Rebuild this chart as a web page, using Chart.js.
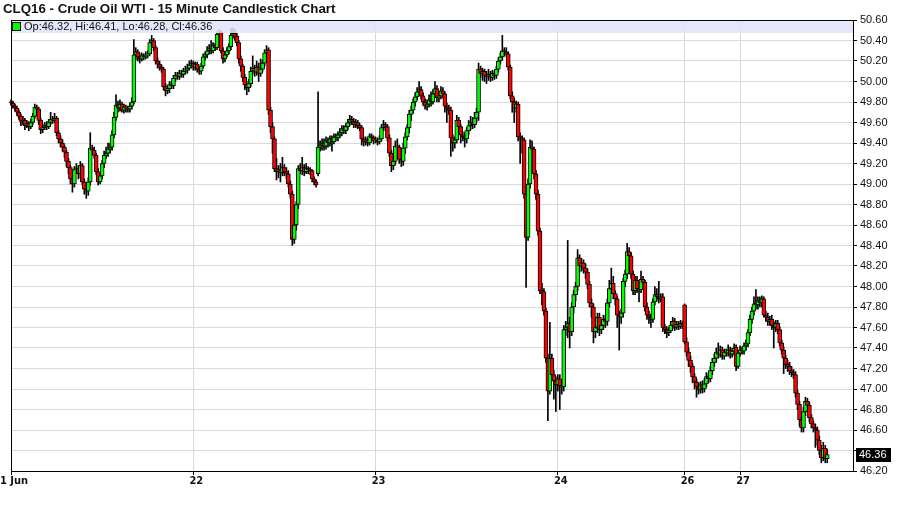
<!DOCTYPE html>
<html>
<head>
<meta charset="utf-8">
<script src="https://cdn.jsdelivr.net/npm/chart.js@4.4.1/dist/chart.umd.min.js"></script>
<style>
  body { margin: 0; background: #fff; }
  #wrap { width: 900px; height: 511px; }
</style>
</head>
<body>
<div id="wrap"><canvas id="myChart" width="900" height="511"></canvas></div>
<script>
// 15 minute candles, CLQ16
var opens = [
49.80,49.79,49.76,49.74,49.70,49.66,49.61,49.62,49.57,49.59,
49.56,49.60,49.66,49.75,49.73,49.62,49.53,49.55,49.57,49.56,
49.60,49.63,49.62,49.64,49.50,49.44,49.40,49.36,49.31,49.22,
49.16,49.05,49.00,49.14,49.15,49.10,49.18,49.02,48.95,48.93,
49.02,49.35,49.33,49.28,49.12,49.02,49.08,49.20,49.28,49.30,
49.34,49.36,49.48,49.65,49.77,49.74,49.78,49.72,49.75,49.74,
49.73,49.76,49.80,50.26,50.29,50.24,50.22,50.25,50.24,50.26,
50.27,50.38,50.40,50.33,50.20,50.17,50.14,50.12,49.95,49.91,
49.93,49.97,49.96,50.03,50.06,50.05,50.08,50.07,50.10,50.11,
50.13,50.16,50.18,50.14,50.17,50.12,50.10,50.15,50.24,50.26,
50.30,50.32,50.30,50.35,50.33,50.46,50.48,50.30,50.22,50.26,
50.30,50.34,50.45,50.47,50.44,50.38,50.22,50.15,50.04,49.97,
49.94,49.98,50.10,50.13,50.09,50.14,50.08,50.12,50.18,50.28,
50.31,49.72,49.56,49.44,49.15,49.12,49.14,49.11,49.16,49.12,
49.10,49.00,48.90,48.46,48.60,48.80,49.15,49.13,49.16,49.12,
49.15,49.14,49.13,49.05,49.02,49.10,49.36,49.38,49.40,49.37,
49.42,49.40,49.44,49.41,49.46,49.45,49.48,49.50,49.54,49.52,
49.56,49.60,49.63,49.61,49.58,49.60,49.57,49.55,49.44,49.41,
49.43,49.40,49.47,49.45,49.42,49.43,49.41,49.44,49.55,49.58,
49.56,49.45,49.30,49.18,49.22,49.37,49.36,49.24,49.22,49.35,
49.46,49.55,49.68,49.72,49.80,49.85,49.90,49.92,49.86,49.80,
49.76,49.78,49.82,49.80,49.88,49.93,49.84,49.86,49.91,49.88,
49.76,49.74,49.72,49.45,49.40,49.43,49.62,49.56,49.48,49.46,
49.44,49.52,49.57,49.60,49.58,49.64,49.70,50.12,50.08,50.10,
50.06,50.05,50.07,50.04,50.08,50.06,50.12,50.20,50.24,50.30,
50.29,50.27,50.14,49.86,49.80,49.74,49.78,49.46,49.44,49.43,
48.90,48.48,49.00,49.36,49.34,49.10,48.90,48.54,47.96,47.95,
47.76,47.30,46.98,47.30,47.14,47.08,47.04,47.10,47.03,47.02,
47.58,47.60,47.64,47.56,47.80,47.92,48.00,48.28,48.20,48.23,
48.18,48.14,48.02,47.84,47.80,47.56,47.60,47.70,47.58,47.62,
47.68,47.66,47.84,47.98,48.03,47.93,47.88,47.72,47.70,47.74,
48.05,48.12,48.34,48.30,48.12,47.96,48.06,47.98,47.97,48.07,
48.04,47.80,47.72,47.70,47.68,47.85,47.92,47.90,47.88,47.90,
47.60,47.58,47.55,47.57,47.62,47.66,47.60,47.63,47.61,47.64,
47.82,47.46,47.36,47.28,47.22,47.12,47.07,47.02,46.99,47.04,
47.00,47.05,47.12,47.10,47.18,47.26,47.30,47.36,47.34,47.38,
47.32,47.36,47.35,47.38,47.34,47.37,47.41,47.22,47.35,47.38,
47.37,47.42,47.44,47.55,47.68,47.76,47.83,47.82,47.86,47.84,
47.88,47.72,47.70,47.66,47.68,47.62,47.60,47.64,47.58,47.45,
47.38,47.30,47.24,47.22,47.18,47.16,47.14,46.96,46.85,46.70,
46.62,46.78,46.88,46.84,46.72,46.66,46.62,46.60,46.50,46.40,
46.33,46.42,46.32
];
var highs = [
49.82,49.81,49.78,49.76,49.72,49.68,49.66,49.64,49.62,49.61,
49.63,49.69,49.78,49.77,49.75,49.64,49.58,49.60,49.61,49.63,
49.70,49.66,49.69,49.66,49.52,49.47,49.43,49.38,49.33,49.25,
49.18,49.08,49.17,49.20,49.18,49.22,49.20,49.05,48.99,49.06,
49.50,49.38,49.36,49.30,49.15,49.11,49.23,49.32,49.36,49.40,
49.40,49.52,49.70,49.87,49.81,49.82,49.80,49.78,49.77,49.76,
49.79,49.84,50.41,50.33,50.31,50.27,50.28,50.27,50.29,50.30,
50.41,50.45,50.42,50.35,50.23,50.20,50.16,50.14,49.98,49.96,
50.00,50.00,50.06,50.09,50.09,50.11,50.11,50.13,50.15,50.17,
50.20,50.21,50.20,50.19,50.19,50.15,50.18,50.27,50.29,50.34,
50.36,50.40,50.38,50.37,50.49,50.51,50.50,50.33,50.29,50.33,
50.37,50.52,50.52,50.51,50.47,50.40,50.25,50.17,50.07,50.00,
50.02,50.14,50.25,50.16,50.20,50.18,50.22,50.21,50.31,50.35,
50.33,49.75,49.60,49.46,49.25,49.18,49.20,49.26,49.19,49.16,
49.13,49.03,48.93,48.63,48.83,49.18,49.20,49.26,49.19,49.20,
49.17,49.16,49.14,49.07,49.04,49.90,49.42,49.44,49.44,49.46,
49.45,49.47,49.47,49.49,49.49,49.51,49.54,49.57,49.57,49.59,
49.63,49.67,49.66,49.64,49.63,49.62,49.59,49.57,49.46,49.46,
49.45,49.49,49.49,49.47,49.46,49.45,49.47,49.58,49.62,49.60,
49.58,49.48,49.33,49.26,49.42,49.44,49.38,49.28,49.40,49.50,
49.58,49.72,49.76,49.83,49.89,49.94,50.00,49.95,49.89,49.83,
49.82,49.87,49.90,49.92,50.00,49.96,49.90,49.95,49.94,49.90,
49.79,49.77,49.75,49.48,49.46,49.67,49.65,49.58,49.51,49.50,
49.55,49.62,49.66,49.65,49.70,49.74,50.18,50.15,50.13,50.12,
50.10,50.12,50.10,50.11,50.10,50.15,50.23,50.28,50.45,50.33,
50.33,50.29,50.16,49.90,49.84,49.81,49.80,49.50,49.47,49.45,
48.94,49.05,49.43,49.42,49.36,49.13,48.94,48.57,48.03,47.98,
47.79,47.34,47.65,47.34,47.18,47.12,47.14,47.14,47.08,47.62,
47.66,48.45,47.70,47.84,47.96,48.04,48.36,48.31,48.27,48.26,
48.22,48.17,48.05,47.88,47.83,47.64,47.74,47.74,47.66,47.72,
47.72,47.88,48.06,48.18,48.10,47.96,47.91,47.76,47.78,48.08,
48.16,48.42,48.38,48.33,48.15,48.10,48.10,48.02,48.15,48.10,
48.06,47.84,47.76,47.73,47.88,48.00,47.98,48.05,47.93,47.93,
47.63,47.61,47.60,47.66,47.70,47.69,47.66,47.66,47.67,47.66,
47.83,47.50,47.40,47.32,47.25,47.15,47.10,47.06,47.07,47.08,
47.10,47.16,47.15,47.22,47.30,47.34,47.40,47.45,47.42,47.41,
47.39,47.39,47.43,47.41,47.40,47.44,47.43,47.38,47.42,47.41,
47.45,47.48,47.58,47.72,47.80,47.90,47.97,47.90,47.90,47.91,
47.90,47.76,47.74,47.71,47.72,47.66,47.67,47.67,47.61,47.48,
47.41,47.33,47.28,47.26,47.22,47.19,47.17,46.99,46.88,46.73,
46.82,46.92,46.91,46.87,46.75,46.69,46.66,46.63,46.54,46.45,
46.48,46.45,46.41
];
var lows = [
49.77,49.74,49.71,49.67,49.63,49.57,49.58,49.53,49.55,49.52,
49.54,49.58,49.64,49.70,49.58,49.49,49.50,49.53,49.53,49.54,
49.58,49.59,49.60,49.47,49.40,49.36,49.32,49.26,49.17,49.10,
49.00,48.92,48.97,49.10,49.05,49.06,48.99,48.90,48.86,48.89,
48.99,49.29,49.25,49.09,48.99,49.00,49.05,49.16,49.25,49.27,
49.30,49.33,49.45,49.62,49.70,49.71,49.70,49.69,49.70,49.70,
49.70,49.73,49.78,50.21,50.20,50.18,50.20,50.21,50.22,50.23,
50.25,50.35,50.30,50.17,50.13,50.11,50.09,49.92,49.86,49.88,
49.89,49.93,49.93,50.00,50.02,50.02,50.04,50.04,50.07,50.08,
50.11,50.13,50.11,50.11,50.09,50.07,50.07,50.13,50.21,50.23,
50.27,50.27,50.28,50.30,50.31,50.43,50.28,50.18,50.19,50.24,
50.27,50.31,50.42,50.40,50.35,50.18,50.10,50.00,49.92,49.87,
49.90,49.95,50.07,50.05,50.06,50.00,50.05,50.10,50.15,50.24,
49.68,49.50,49.30,49.12,49.04,49.06,49.02,49.08,49.08,49.05,
48.97,48.86,48.40,48.42,48.55,48.76,49.10,49.09,49.08,49.10,
49.10,49.09,49.02,48.99,48.97,49.08,49.32,49.33,49.33,49.34,
49.36,49.37,49.32,49.39,49.42,49.42,49.45,49.47,49.49,49.49,
49.53,49.57,49.58,49.55,49.55,49.54,49.52,49.38,49.37,49.38,
49.37,49.38,49.42,49.39,49.40,49.38,49.39,49.42,49.52,49.52,
49.42,49.27,49.12,49.14,49.19,49.30,49.20,49.17,49.18,49.30,
49.43,49.50,49.62,49.69,49.76,49.82,49.86,49.83,49.77,49.73,
49.72,49.75,49.76,49.78,49.85,49.80,49.80,49.83,49.84,49.70,
49.60,49.68,49.27,49.32,49.35,49.40,49.52,49.40,49.42,49.36,
49.40,49.48,49.53,49.54,49.55,49.60,49.62,50.04,50.01,50.00,
49.98,50.01,50.00,50.01,50.02,50.03,50.09,50.17,50.21,50.25,
50.24,50.11,49.83,49.70,49.60,49.70,49.42,49.20,49.30,48.86,
47.99,48.45,48.96,49.28,49.05,48.85,48.50,47.93,47.82,47.72,
47.26,46.69,46.95,47.08,46.90,46.78,46.98,46.80,46.95,46.98,
47.52,47.50,47.40,47.52,47.74,47.86,47.96,48.14,48.15,48.13,
48.08,47.98,47.80,47.70,47.45,47.50,47.55,47.52,47.54,47.58,
47.60,47.62,47.80,47.94,47.88,47.82,47.60,47.38,47.64,47.70,
48.00,48.08,48.26,48.08,47.92,47.92,47.94,47.85,47.94,48.00,
47.76,47.68,47.64,47.60,47.65,47.82,47.86,47.84,47.85,47.56,
47.54,47.50,47.52,47.55,47.59,47.57,47.58,47.58,47.59,47.59,
47.44,47.32,47.22,47.16,47.06,47.00,46.92,46.95,46.96,46.96,
46.97,47.02,47.06,47.07,47.14,47.22,47.26,47.30,47.31,47.29,
47.29,47.32,47.32,47.30,47.31,47.33,47.18,47.20,47.32,47.34,
47.34,47.38,47.41,47.52,47.64,47.72,47.78,47.78,47.80,47.80,
47.70,47.66,47.62,47.62,47.58,47.40,47.56,47.54,47.42,47.34,
47.15,47.20,47.17,47.14,47.12,47.10,46.92,46.80,46.64,46.58,
46.58,46.74,46.80,46.68,46.62,46.58,46.43,46.45,46.36,46.28,
46.30,46.28,46.28
];
var closes = [
49.79,49.76,49.74,49.70,49.66,49.61,49.62,49.57,49.59,49.56,
49.60,49.66,49.75,49.73,49.62,49.53,49.55,49.57,49.56,49.60,
49.63,49.62,49.64,49.50,49.44,49.40,49.36,49.31,49.22,49.16,
49.05,49.00,49.14,49.15,49.10,49.18,49.02,48.95,48.93,49.02,
49.35,49.33,49.28,49.12,49.02,49.08,49.20,49.28,49.30,49.34,
49.36,49.48,49.65,49.77,49.74,49.78,49.72,49.75,49.74,49.73,
49.76,49.80,50.26,50.29,50.24,50.22,50.25,50.24,50.26,50.27,
50.38,50.40,50.33,50.20,50.17,50.14,50.12,49.95,49.91,49.93,
49.97,49.96,50.03,50.06,50.05,50.08,50.07,50.10,50.11,50.13,
50.16,50.18,50.14,50.17,50.12,50.10,50.15,50.24,50.26,50.30,
50.32,50.30,50.35,50.33,50.46,50.48,50.30,50.22,50.26,50.30,
50.34,50.45,50.47,50.44,50.38,50.22,50.15,50.04,49.97,49.94,
49.98,50.10,50.13,50.09,50.14,50.08,50.12,50.18,50.28,50.31,
49.72,49.56,49.44,49.15,49.12,49.14,49.11,49.16,49.12,49.10,
49.00,48.90,48.46,48.60,48.80,49.15,49.13,49.16,49.12,49.15,
49.14,49.13,49.05,49.02,48.99,49.36,49.38,49.40,49.37,49.42,
49.40,49.44,49.41,49.46,49.45,49.48,49.50,49.54,49.52,49.56,
49.60,49.63,49.61,49.58,49.60,49.57,49.55,49.44,49.41,49.43,
49.40,49.47,49.45,49.42,49.43,49.41,49.44,49.55,49.58,49.56,
49.45,49.30,49.18,49.22,49.37,49.36,49.24,49.22,49.35,49.46,
49.55,49.68,49.72,49.80,49.85,49.90,49.92,49.86,49.80,49.76,
49.78,49.82,49.80,49.88,49.93,49.84,49.86,49.91,49.88,49.76,
49.74,49.72,49.45,49.40,49.43,49.62,49.56,49.48,49.46,49.44,
49.52,49.57,49.60,49.58,49.64,49.70,50.12,50.08,50.10,50.06,
50.05,50.07,50.04,50.08,50.06,50.12,50.20,50.24,50.30,50.29,
50.27,50.14,49.86,49.80,49.74,49.78,49.46,49.44,49.43,48.90,
48.48,49.00,49.36,49.34,49.10,48.90,48.54,47.96,47.95,47.76,
47.30,46.98,47.30,47.14,47.08,47.04,47.10,47.03,47.02,47.58,
47.60,47.64,47.56,47.80,47.92,48.00,48.28,48.20,48.23,48.18,
48.14,48.02,47.84,47.80,47.56,47.60,47.70,47.58,47.62,47.68,
47.66,47.84,47.98,48.03,47.93,47.88,47.72,47.70,47.74,48.05,
48.12,48.34,48.30,48.12,47.96,48.06,47.98,47.97,48.07,48.04,
47.80,47.72,47.70,47.68,47.85,47.92,47.90,47.88,47.90,47.60,
47.58,47.55,47.57,47.62,47.66,47.60,47.63,47.61,47.64,47.62,
47.46,47.36,47.28,47.22,47.12,47.07,47.02,46.99,47.04,47.00,
47.05,47.12,47.10,47.18,47.26,47.30,47.36,47.34,47.38,47.32,
47.36,47.35,47.38,47.34,47.37,47.40,47.22,47.35,47.38,47.37,
47.42,47.44,47.55,47.68,47.76,47.83,47.82,47.86,47.84,47.88,
47.72,47.70,47.66,47.68,47.62,47.60,47.64,47.58,47.45,47.38,
47.30,47.24,47.22,47.18,47.16,47.14,46.96,46.85,46.70,46.62,
46.78,46.88,46.84,46.72,46.66,46.62,46.60,46.50,46.40,46.33,
46.42,46.32,46.36
];

// day starts (slot index) and their labels
var dayIndex = [0, 92, 184, 276, 340, 368];
var dayLabels = ['1 Jun', '22', '23', '24', '26', '27'];
var slotCount = 426;
var priceMin = 46.2, priceMax = 50.6, priceStep = 0.2;

var upColor = '#00ff00';
var downColor = '#ff0000';
var gridColor = '#d9d9d9';

var slots = [];
for (var i = 0; i < slotCount; i++) slots.push(String(i));

var wickData = lows.map((l, i) => [l, highs[i]]);
var bodyData = opens.map((o, i) => [o, closes[i]]);

var last = closes.length - 1;

var framePlugin = {
  id: 'frame',
  afterDatasetsDraw(chart) {
    var c = chart.ctx, a = chart.chartArea;
    c.save();
    // quote band at top of plot
    c.fillStyle = 'rgba(226,226,250,0.88)';
    c.fillRect(a.left, a.top, a.right - a.left, 13);
    c.fillStyle = upColor;
    c.fillRect(a.left + 2, a.top + 3, 7, 7);
    c.strokeStyle = '#000';
    c.lineWidth = 1;
    c.strokeRect(a.left + 1.5, a.top + 2.5, 8, 8);
    c.fillStyle = '#111';
    c.font = '11px "Liberation Sans", Arial, sans-serif';
    c.textBaseline = 'middle';
    c.fillText('Op:' + opens[last].toFixed(2) + ', Hi:' + highs[last].toFixed(2) +
      ', Lo:' + lows[last].toFixed(2) + ', Cl:' + closes[last].toFixed(2), a.left + 13, a.top + 7);
    // frame
    c.strokeStyle = '#000';
    c.strokeRect(a.left + 0.5, a.top + 0.5, a.right - a.left, a.bottom - a.top);
    c.restore();
  },
  afterDraw(chart) {
    var c = chart.ctx, a = chart.chartArea;
    var y = chart.scales.y.getPixelForValue(closes[last]);
    c.save();
    c.font = 'bold 13.3px "Liberation Sans", Arial, sans-serif';
    c.fillStyle = '#111';
    c.textBaseline = 'middle';
    c.fillText('CLQ16 - Crude Oil WTI - 15 Minute Candlestick Chart', 3, 9);
    // last price tag
    c.fillStyle = '#000';
    c.fillRect(a.right + 3, Math.round(y) - 7, 35, 14);
    c.fillStyle = '#fff';
    c.font = '11px "Liberation Sans", Arial, sans-serif';
    c.fillText(closes[last].toFixed(2), a.right + 6, y + 0.5);
    c.restore();
  }
};

new Chart(document.getElementById('myChart'), {
  type: 'bar',
  data: {
    labels: slots,
    datasets: [
      {
        data: wickData,
        backgroundColor: '#000',
        barThickness: 1,
        grouped: false,
        order: 2,
        clip: false
      },
      {
        data: bodyData,
        backgroundColor: (ctx) => closes[ctx.dataIndex] >= opens[ctx.dataIndex] ? upColor : downColor,
        borderColor: '#000',
        borderWidth: 1,
        borderSkipped: false,
        barThickness: 4,
        minBarLength: 1,
        grouped: false,
        order: 1,
        clip: false
      }
    ]
  },
  options: {
    responsive: false,
    animation: false,
    layout: { padding: { top: 20, left: 11, right: 0, bottom: 0 } },
    plugins: { legend: { display: false }, tooltip: { enabled: false }, title: { display: false } },
    scales: {
      x: {
        offset: false,
        afterFit: (s) => { s.height = 40; s.paddingLeft = 0; s.paddingRight = 0; },
        afterBuildTicks: (axis) => { axis.ticks = dayIndex.map(v => ({ value: v })); },
        grid: { color: gridColor, tickLength: 4, tickColor: '#000', offset: false },
        border: { color: '#000' },
        ticks: {
          autoSkip: false,
          maxRotation: 0,
          padding: 0,
          labelOffset: 3,
          color: '#111',
          font: { family: '"Liberation Sans Narrow", "DejaVu Sans Condensed", Arial, sans-serif', size: 11, weight: 'bold' },
          callback: (v) => dayLabels[dayIndex.indexOf(v)]
        }
      },
      y: {
        position: 'right',
        min: priceMin,
        max: priceMax,
        afterFit: (s) => { s.width = 47; s.paddingTop = 0; s.paddingBottom = 0; },
        grid: { color: gridColor, tickLength: 4, tickColor: '#000' },
        border: { color: '#000' },
        ticks: {
          stepSize: priceStep,
          padding: 3,
          color: '#111',
          font: { family: '"Liberation Sans", Arial, sans-serif', size: 11 },
          callback: (v) => Math.abs(v - 46.4) < 0.001 ? '' : v.toFixed(2)
        }
      }
    }
  },
  plugins: [framePlugin]
});
</script>
</body>
</html>
